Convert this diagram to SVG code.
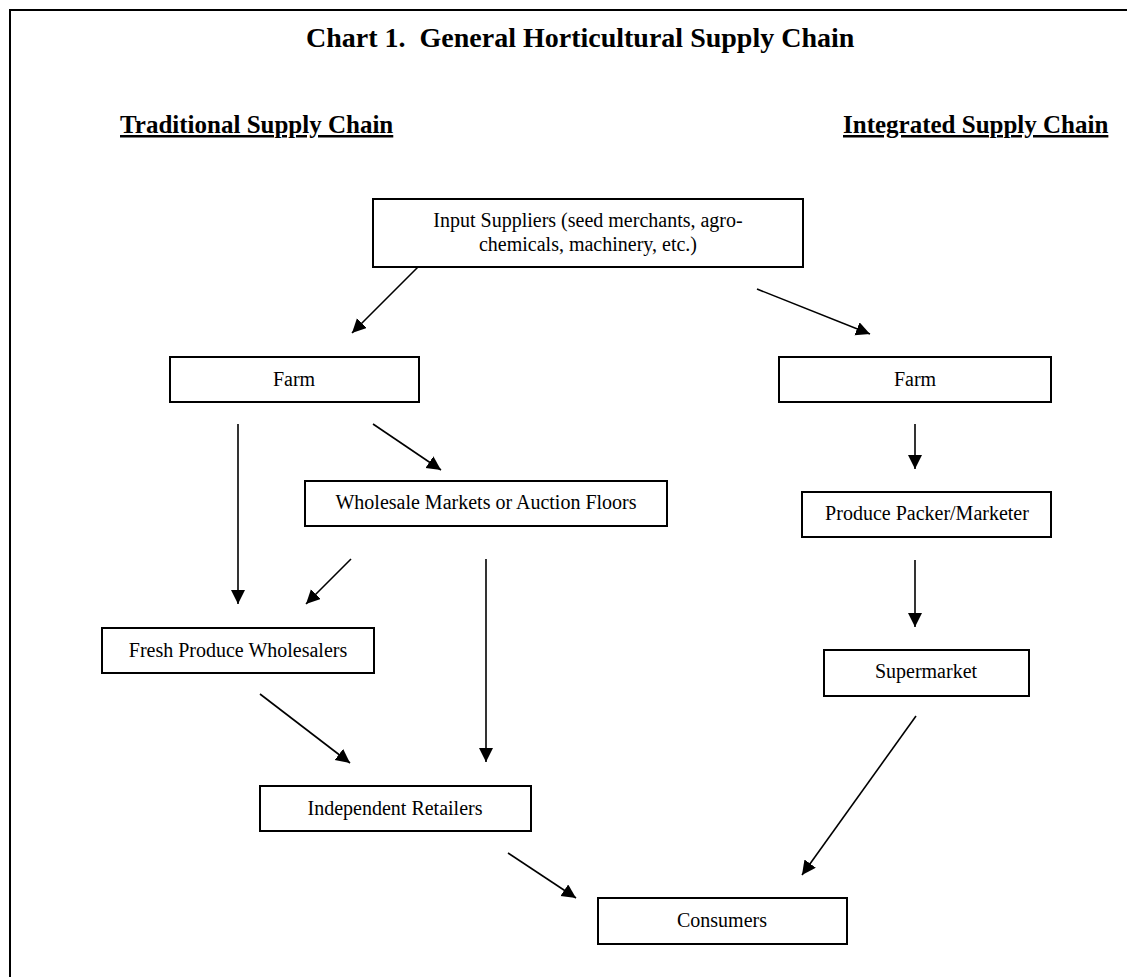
<svg xmlns="http://www.w3.org/2000/svg" width="1127" height="977" viewBox="0 0 1127 977">
<style>
.box{fill:#fff;stroke:#000;stroke-width:2}
.t{font-family:"Liberation Serif","Times New Roman",serif;font-size:20px;fill:#000;text-anchor:middle}
.h{font-family:"Liberation Serif","Times New Roman",serif;font-weight:bold;fill:#000}
.c{stroke:#000;stroke-width:1.6;fill:none;marker-end:url(#ah)}
</style>
<defs>
<marker id="ah" markerUnits="userSpaceOnUse" markerWidth="16" markerHeight="16" refX="14" refY="7" orient="auto">
<path d="M0,0 L14,7 L0,14 z" fill="#000"/>
</marker>
</defs>
<rect width="1127" height="977" fill="#fff"/>
<path d="M10,977 V10 H1127" fill="none" stroke="#000" stroke-width="2"/>
<text class="h" x="306" y="47" font-size="28" xml:space="preserve">Chart 1.  General Horticultural Supply Chain</text>
<text class="h" x="120" y="133" font-size="25" text-decoration="underline">Traditional Supply Chain</text>
<text class="h" x="843" y="133" font-size="25" text-decoration="underline">Integrated Supply Chain</text>

<g id="input">
<rect class="box" x="373" y="199" width="430" height="68"/>
<text class="t" x="588" y="227">Input Suppliers (seed merchants, agro-</text>
<text class="t" x="588" y="251">chemicals, machinery, etc.)</text>
</g>
<g id="farm-left">
<rect class="box" x="170" y="357" width="249" height="45"/>
<text class="t" x="294" y="386">Farm</text>
</g>
<g id="farm-right">
<rect class="box" x="779" y="357" width="272" height="45"/>
<text class="t" x="915" y="386">Farm</text>
</g>
<g id="wholesale">
<rect class="box" x="305" y="481" width="362" height="45"/>
<text class="t" x="486" y="509">Wholesale Markets or Auction Floors</text>
</g>
<g id="packer">
<rect class="box" x="802" y="492" width="249" height="45"/>
<text class="t" x="927" y="520">Produce Packer/Marketer</text>
</g>
<g id="fresh">
<rect class="box" x="102" y="628" width="272" height="45"/>
<text class="t" x="238" y="657">Fresh Produce Wholesalers</text>
</g>
<g id="supermarket">
<rect class="box" x="824" y="650" width="205" height="46"/>
<text class="t" x="926" y="678">Supermarket</text>
</g>
<g id="retailers">
<rect class="box" x="260" y="786" width="271" height="45"/>
<text class="t" x="395" y="815">Independent Retailers</text>
</g>
<g id="consumers">
<rect class="box" x="598" y="898" width="249" height="46"/>
<text class="t" x="722" y="927">Consumers</text>
</g>

<g id="connectors">
<line class="c" x1="418" y1="267" x2="352" y2="333"/>
<line class="c" x1="757" y1="289" x2="870" y2="334"/>
<line class="c" x1="238" y1="424" x2="238" y2="604"/>
<line class="c" x1="373" y1="424" x2="441" y2="470"/>
<line class="c" x1="351" y1="559" x2="306" y2="604"/>
<line class="c" x1="486" y1="559" x2="486" y2="762"/>
<line class="c" x1="260" y1="694" x2="350" y2="763"/>
<line class="c" x1="508" y1="853" x2="576" y2="898"/>
<line class="c" x1="915" y1="424" x2="915" y2="469"/>
<line class="c" x1="915" y1="560" x2="915" y2="627"/>
<line class="c" x1="916" y1="716" x2="802" y2="875"/>
</g>
</svg>
